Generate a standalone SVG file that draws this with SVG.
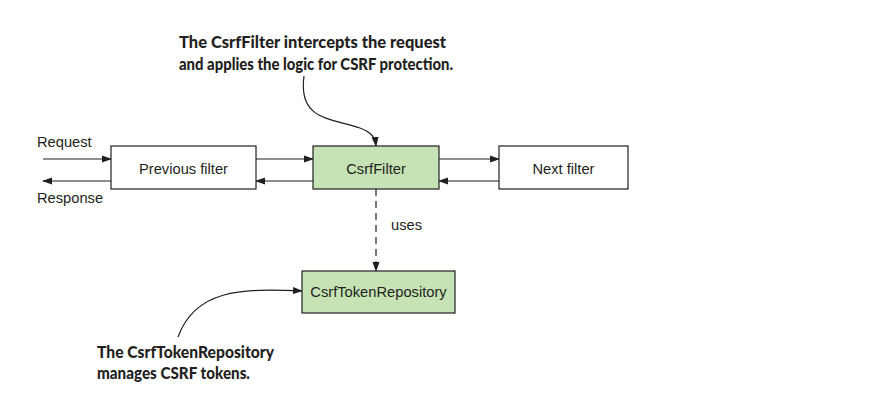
<svg xmlns="http://www.w3.org/2000/svg" width="883" height="407" viewBox="0 0 883 407">
<defs>
<marker id="ah" markerWidth="10" markerHeight="8" refX="9" refY="4" orient="auto" markerUnits="userSpaceOnUse">
<path d="M0,0.5 L10,4 L0,7.5 Z" fill="#231f20"/>
</marker>
</defs>
<style>
.box{stroke:#231f20;stroke-width:1.2}
.w{fill:#ffffff}
.g{fill:#c5e3b5}
.lbl{font-family:"Liberation Sans",Arial,sans-serif;font-size:14.7px;fill:#231f20}
.note{font-family:Lato,"DejaVu Sans",sans-serif;font-weight:900;font-size:16.5px;fill:#231f20}
.ln{stroke:#231f20;stroke-width:1.2;fill:none}
</style>
<rect width="883" height="407" fill="#ffffff"/>
<g id="connectors">
<line class="ln" x1="43" y1="159" x2="111" y2="159" marker-end="url(#ah)"/>
<line class="ln" x1="111" y1="181" x2="43" y2="181" marker-end="url(#ah)"/>
<line class="ln" x1="256" y1="159" x2="313" y2="159" marker-end="url(#ah)"/>
<line class="ln" x1="313" y1="181" x2="256" y2="181" marker-end="url(#ah)"/>
<line class="ln" x1="439" y1="159" x2="499" y2="159" marker-end="url(#ah)"/>
<line class="ln" x1="499" y1="181" x2="439" y2="181" marker-end="url(#ah)"/>
<line class="ln" x1="376" y1="189" x2="376" y2="271" stroke-dasharray="7,5" marker-end="url(#ah)"/>
<path class="ln" d="M304,76 C298,120 330,118 360,128 C370,132 375,136 376,146" stroke-width="0.9" marker-end="url(#ah)"/>
<path class="ln" d="M178,337 C195,290 240,288 302,291" stroke-width="0.9" marker-end="url(#ah)"/>
</g>
<g id="request-label"><text class="lbl" x="37" y="147">Request</text></g>
<g id="response-label"><text class="lbl" x="37" y="203">Response</text></g>
<g id="previous-filter">
<rect class="box w" x="111" y="146" width="145" height="43"/>
<text class="lbl" x="183.5" y="174" text-anchor="middle">Previous filter</text>
</g>
<g id="csrf-filter">
<rect class="box g" x="313" y="146" width="126" height="43"/>
<text class="lbl" x="376" y="174" text-anchor="middle">CsrfFilter</text>
</g>
<g id="next-filter">
<rect class="box w" x="499" y="146" width="129" height="43"/>
<text class="lbl" x="563.5" y="174" text-anchor="middle">Next filter</text>
</g>
<g id="uses-label"><text class="lbl" x="391" y="230">uses</text></g>
<g id="csrf-token-repository">
<rect class="box g" x="302" y="271" width="153" height="42"/>
<text class="lbl" x="378.5" y="297" text-anchor="middle">CsrfTokenRepository</text>
</g>
<g id="note-top">
<text class="note" x="179" y="48" textLength="267" lengthAdjust="spacingAndGlyphs">The CsrfFilter intercepts the request</text>
<text class="note" x="179" y="70" textLength="274" lengthAdjust="spacingAndGlyphs">and applies the logic for CSRF protection.</text>
</g>
<g id="note-bottom">
<text class="note" x="97" y="358" textLength="177" lengthAdjust="spacingAndGlyphs">The CsrfTokenRepository</text>
<text class="note" x="97" y="379" textLength="153" lengthAdjust="spacingAndGlyphs">manages CSRF tokens.</text>
</g>
</svg>
